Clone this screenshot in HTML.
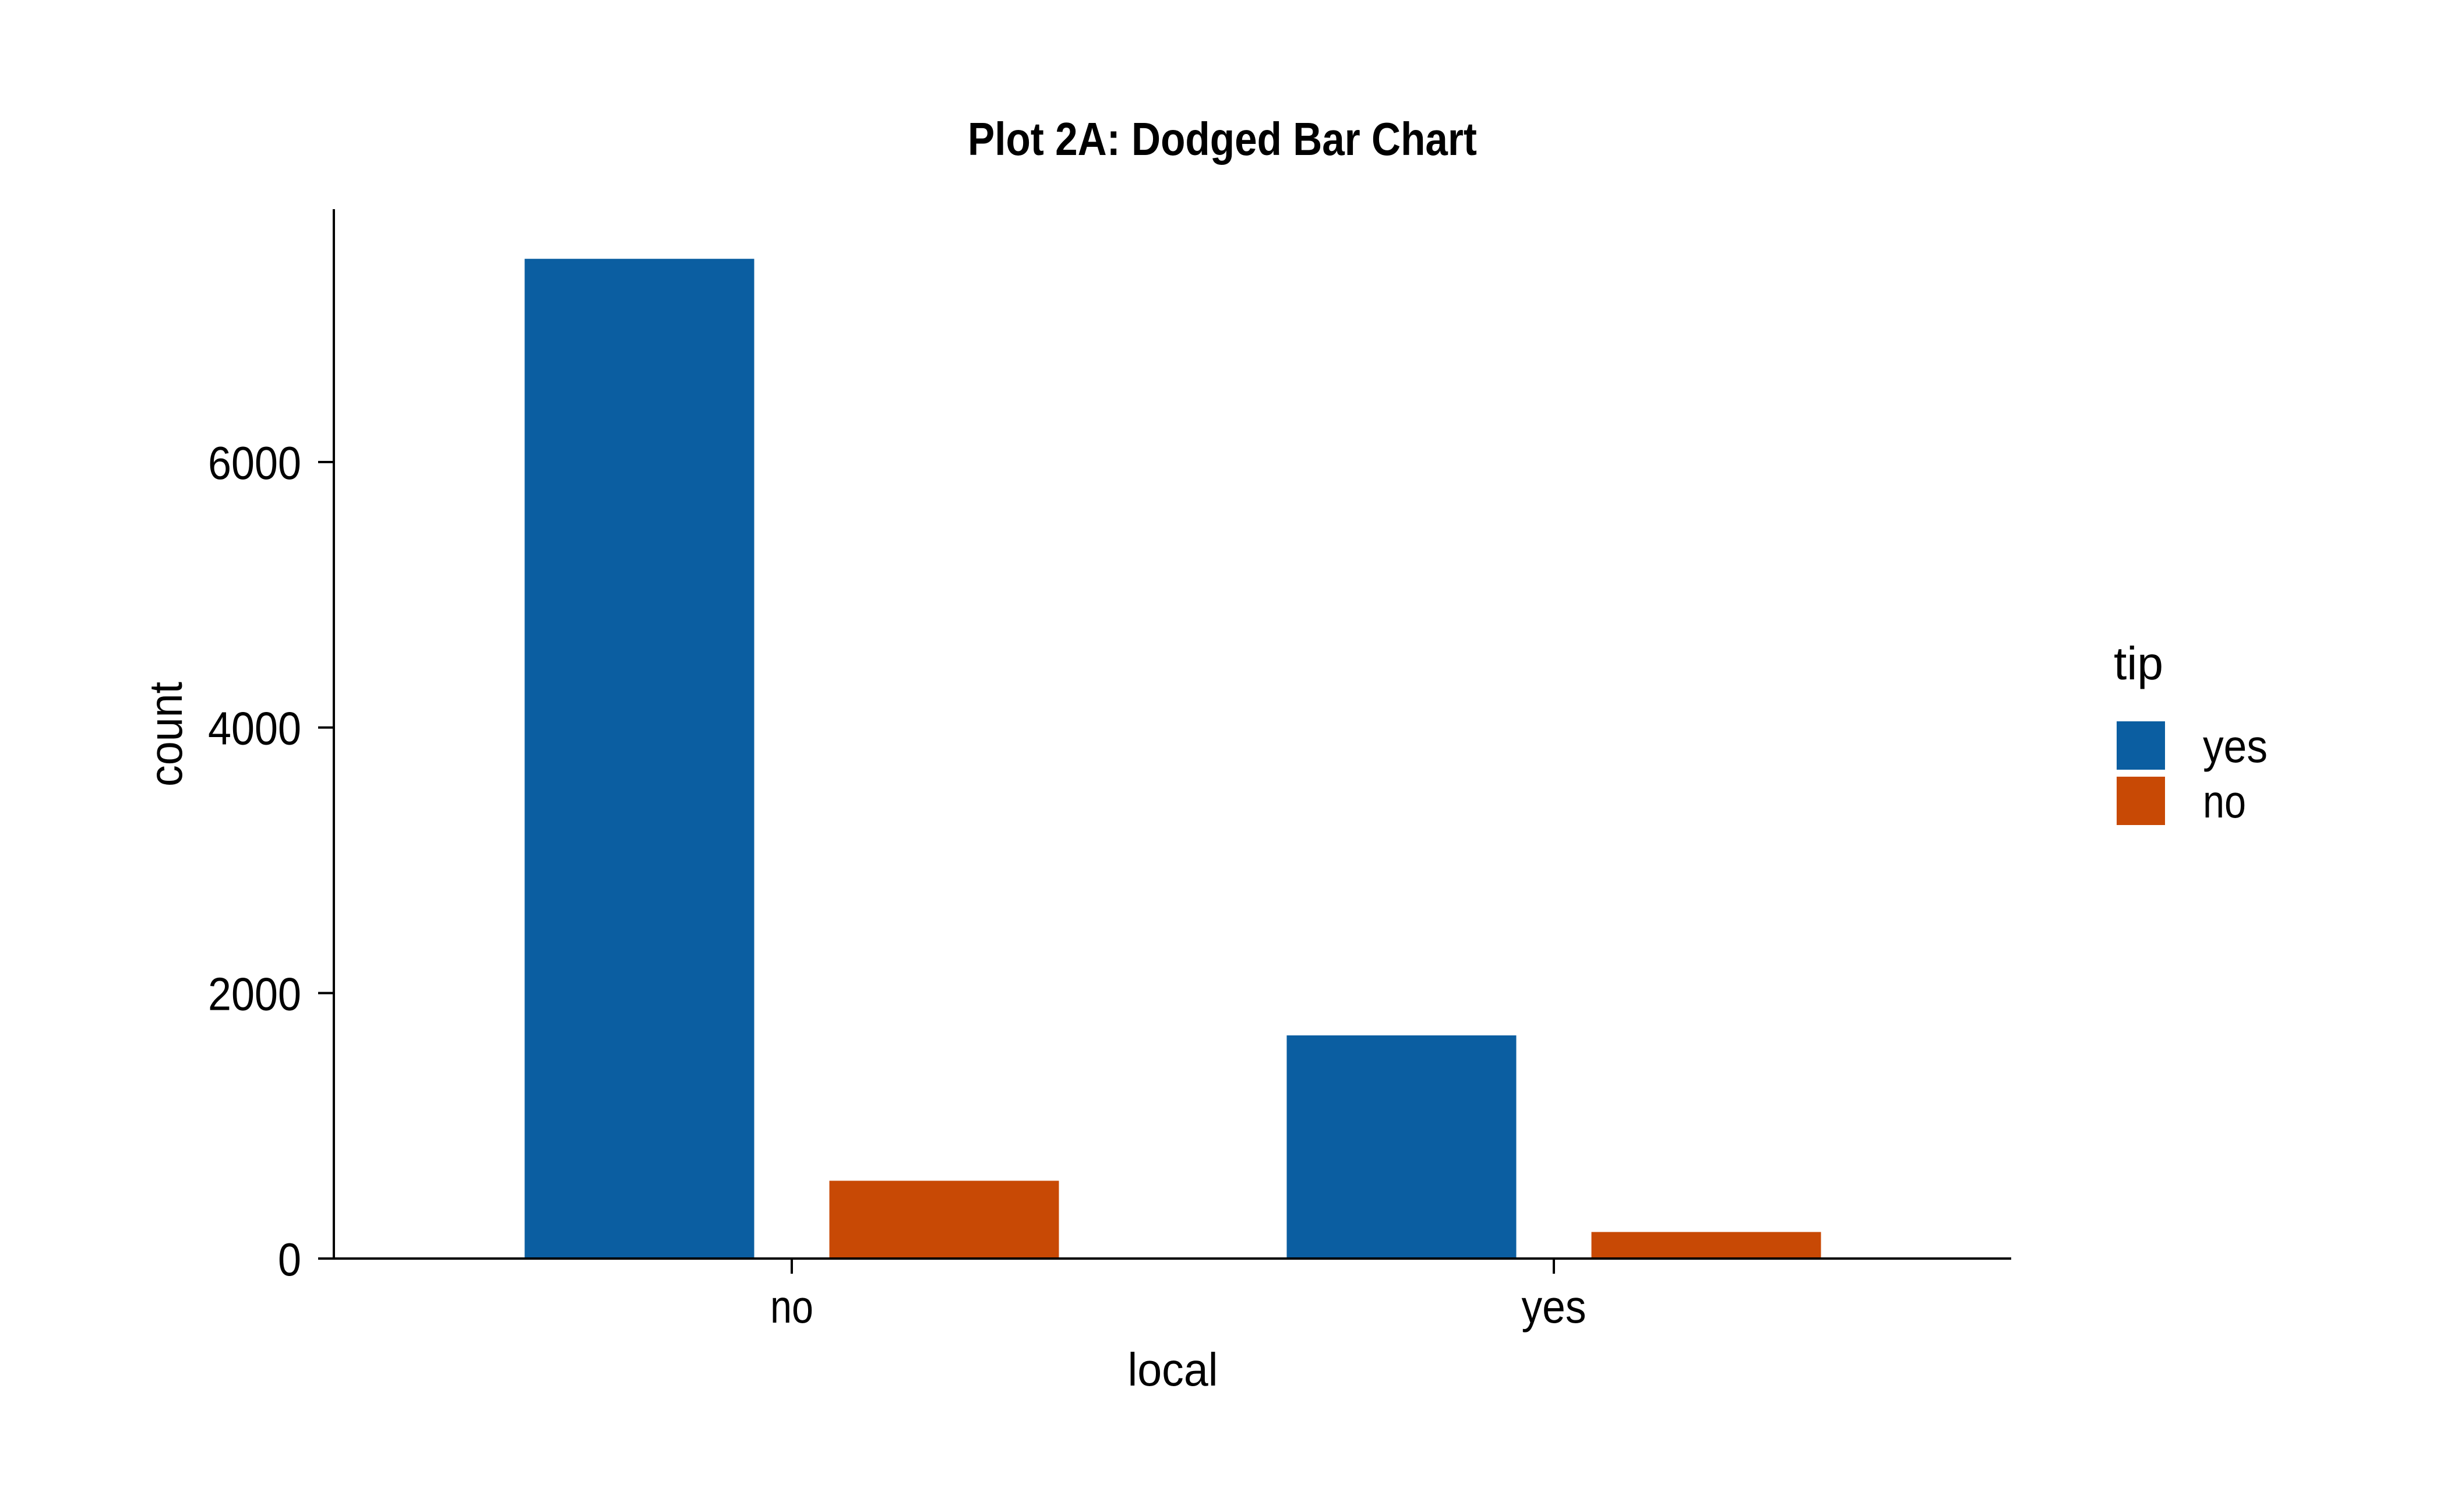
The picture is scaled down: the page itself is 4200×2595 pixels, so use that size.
<!DOCTYPE html>
<html><head><meta charset="utf-8"><style>
html,body{margin:0;padding:0;background:#fff;}
svg{display:block;}
text{font-family:"Liberation Sans Narrow","Liberation Sans",sans-serif;fill:#000;}
</style></head><body>
<svg id="chart" width="4200" height="2595" viewBox="0 0 4200 2595" xmlns="http://www.w3.org/2000/svg">
<rect width="4200" height="2595" fill="#fff"/>
<text x="2098" y="266" font-size="80" font-weight="bold" text-anchor="middle" textLength="874" lengthAdjust="spacingAndGlyphs">Plot 2A: Dodged Bar Chart</text>
<g id="bars"></g>
<g id="axes"></g>
<text x="2013" y="2378" font-size="80" text-anchor="middle" textLength="155" lengthAdjust="spacingAndGlyphs">local</text>
<text transform="translate(312,1260) rotate(-90)" font-size="80" text-anchor="middle" textLength="180" lengthAdjust="spacingAndGlyphs">count</text>
<g id="legend">
<text x="3628" y="1166" font-size="80" textLength="85" lengthAdjust="spacingAndGlyphs">tip</text>
</g>
</svg>
<script>
const categories = ["no", "yes"];
const seriesNames = ["yes", "no"];
const seriesYes = [7531, 1681];
const seriesNo = [586, 200];
const yTicks = [0, 2000, 4000, 6000];
const colors = ["#0b5ea1", "#c84905"];

const NS = "http://www.w3.org/2000/svg";
const x0 = 573, x1 = 3452, yZero = 2160, yTop = 359;
const pxPerUnit = (2160 - 793) / 6000;
function yScale(v){ return yZero - v * pxPerUnit; }
const catStart = 1359, catStep = 1308;
function xScale(i){ return catStart + i * catStep; }
const barW = 394, barGap = 129;
function mk(tag, attrs){ const e = document.createElementNS(NS, tag); for (const k in attrs) e.setAttribute(k, attrs[k]); return e; }
function textW(s){ return s.length * 37; }

const bars = document.getElementById('bars');
const series = [seriesYes, seriesNo];
series.forEach((vals, s) => {
  vals.forEach((v, i) => {
    const cx = xScale(i);
    const left = s === 0 ? cx - barGap/2 - barW : cx + barGap/2;
    const r = mk('rect', {x: left, y: yScale(v), width: barW, height: yZero - yScale(v), fill: colors[s]});
    
    
    bars.appendChild(r);
  });
});

const axes = document.getElementById('axes');
const yl = mk('line', {x1: x0, y1: yTop, x2: x0, y2: yZero + 2, stroke: '#000', 'stroke-width': 4});


axes.appendChild(yl);
const xl = mk('line', {x1: x0 - 2, y1: yZero, x2: x1, y2: yZero, stroke: '#000', 'stroke-width': 4});


axes.appendChild(xl);
yTicks.forEach(t => {
  const y = yScale(t);
  const tk = mk('line', {x1: 546, y1: y, x2: x0, y2: y, stroke: '#000', 'stroke-width': 4});
  
  
  axes.appendChild(tk);
  const s = String(t);
  const lb = mk('text', {x: 517, y: y + 29, 'font-size': 80, 'text-anchor': 'end', textLength: 40 * s.length, lengthAdjust: 'spacingAndGlyphs'});
  lb.textContent = s;
  
  
  axes.appendChild(lb);
});
categories.forEach((c, i) => {
  const x = xScale(i);
  const tk = mk('line', {x1: x, y1: yZero, x2: x, y2: yZero + 26, stroke: '#000', 'stroke-width': 4});
  
  
  axes.appendChild(tk);
  const lb = mk('text', {x: x, y: 2270, 'font-size': 80, 'text-anchor': 'middle', textLength: textW(c), lengthAdjust: 'spacingAndGlyphs'});
  lb.textContent = c;
  
  
  axes.appendChild(lb);
});

const legend = document.getElementById('legend');
seriesNames.forEach((n, s) => {
  const top = 1238 + s * 95;
  const key = mk('rect', {x: 3633, y: top, width: 83, height: 83, fill: colors[s]});
  
  
  legend.appendChild(key);
  const lb = mk('text', {x: 3781, y: top + 70, 'font-size': 80, textLength: textW(n), lengthAdjust: 'spacingAndGlyphs'});
  lb.textContent = n;
  
  
  legend.appendChild(lb);
});
</script>
</body></html>
